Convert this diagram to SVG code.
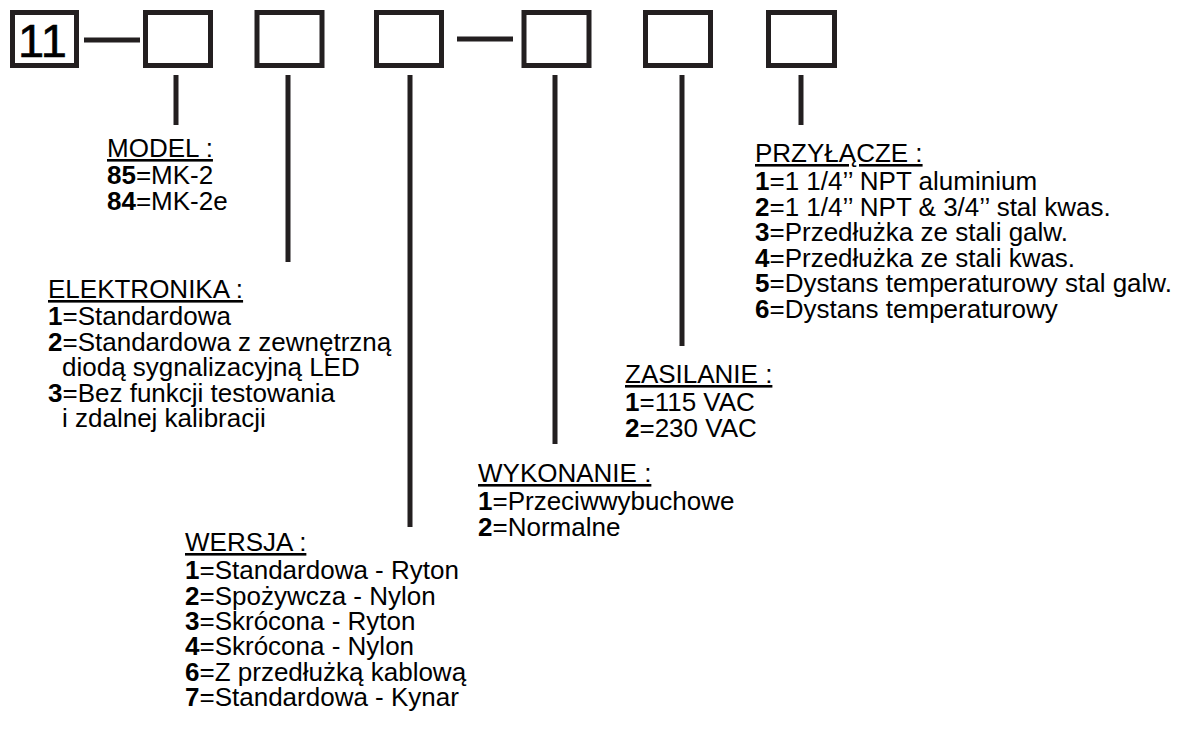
<svg xmlns="http://www.w3.org/2000/svg" width="1182" height="733" viewBox="0 0 1182 733">
<style>
.box{fill:#fff;stroke:#231f20;stroke-width:5}
.ln{stroke:#231f20;stroke-width:5;fill:none}
.t{font-family:"Liberation Sans",Arial,sans-serif;font-size:26px;fill:#000}
.h{text-decoration:underline}
.b{font-weight:bold}
.big{font-family:"Liberation Sans",Arial,sans-serif;font-size:47px;fill:#000;stroke:#000;stroke-width:0.6}
</style>
<rect width="1182" height="733" fill="#fff"/>
<g id="box-11"><rect class="box" x="12.5" y="12.5" width="64" height="53"/><text class="big" x="18" y="57">11</text></g>
<g id="box-model"><rect class="box" x="145.5" y="12.5" width="65" height="53"/></g>
<g id="box-elektronika"><rect class="box" x="257" y="12.5" width="65" height="53"/></g>
<g id="box-wersja"><rect class="box" x="376.5" y="12.5" width="65" height="53"/></g>
<g id="box-wykonanie"><rect class="box" x="524" y="12.5" width="65" height="53"/></g>
<g id="box-zasilanie"><rect class="box" x="645.5" y="12.5" width="65" height="53"/></g>
<g id="box-przylacze"><rect class="box" x="768.5" y="12.5" width="66" height="53"/></g>
<g id="connectors">
<line class="ln" x1="84" y1="40" x2="140" y2="40"/>
<line class="ln" x1="457" y1="39" x2="513" y2="39"/>
<line class="ln" x1="176" y1="75" x2="176" y2="125"/>
<line class="ln" x1="288" y1="75" x2="288" y2="262"/>
<line class="ln" x1="410" y1="75" x2="410" y2="527"/>
<line class="ln" x1="555" y1="75" x2="555" y2="444"/>
<line class="ln" x1="682" y1="75" x2="682" y2="346"/>
<line class="ln" x1="801" y1="75" x2="801" y2="125"/>
</g>
<g id="legend-model">
<text class="t h" x="107" y="157">MODEL :</text>
<text class="t" x="107" y="184"><tspan class="b">85</tspan>=MK-2</text>
<text class="t" x="107" y="209.5"><tspan class="b">84</tspan>=MK-2e</text>
</g>
<g id="legend-elektronika">
<text class="t h" x="48" y="298">ELEKTRONIKA :</text>
<text class="t" x="48" y="325"><tspan class="b">1</tspan>=Standardowa</text>
<text class="t" x="48" y="350.5"><tspan class="b">2</tspan>=Standardowa z zewnętrzną</text>
<text class="t" x="62" y="376">diodą sygnalizacyjną LED</text>
<text class="t" x="48" y="401.5"><tspan class="b">3</tspan>=Bez funkcji testowania</text>
<text class="t" x="62" y="427">i zdalnej kalibracji</text>
</g>
<g id="legend-wersja">
<text class="t h" x="185" y="551">WERSJA :</text>
<text class="t" x="185" y="579"><tspan class="b">1</tspan>=Standardowa - Ryton</text>
<text class="t" x="185" y="604.5"><tspan class="b">2</tspan>=Spożywcza - Nylon</text>
<text class="t" x="185" y="630"><tspan class="b">3</tspan>=Skrócona - Ryton</text>
<text class="t" x="185" y="655"><tspan class="b">4</tspan>=Skrócona - Nylon</text>
<text class="t" x="185" y="680.5"><tspan class="b">6</tspan>=Z przedłużką kablową</text>
<text class="t" x="185" y="706"><tspan class="b">7</tspan>=Standardowa - Kynar</text>
</g>
<g id="legend-wykonanie">
<text class="t h" x="478" y="482">WYKONANIE :</text>
<text class="t" x="478" y="510"><tspan class="b">1</tspan>=Przeciwwybuchowe</text>
<text class="t" x="478" y="535.5"><tspan class="b">2</tspan>=Normalne</text>
</g>
<g id="legend-zasilanie">
<text class="t h" x="625" y="383">ZASILANIE :</text>
<text class="t" x="625" y="411"><tspan class="b">1</tspan>=115 VAC</text>
<text class="t" x="625" y="436.5"><tspan class="b">2</tspan>=230 VAC</text>
</g>
<g id="legend-przylacze">
<text class="t h" x="755" y="162">PRZYŁĄCZE :</text>
<text class="t" x="755" y="190"><tspan class="b">1</tspan>=1 1/4’’ NPT aluminium</text>
<text class="t" x="755" y="215.5"><tspan class="b">2</tspan>=1 1/4’’ NPT &amp; 3/4’’ stal kwas.</text>
<text class="t" x="755" y="241"><tspan class="b">3</tspan>=Przedłużka ze stali galw.</text>
<text class="t" x="755" y="266.5"><tspan class="b">4</tspan>=Przedłużka ze stali kwas.</text>
<text class="t" x="755" y="292"><tspan class="b">5</tspan>=Dystans temperaturowy stal galw.</text>
<text class="t" x="755" y="317.5"><tspan class="b">6</tspan>=Dystans temperaturowy</text>
</g>
</svg>
